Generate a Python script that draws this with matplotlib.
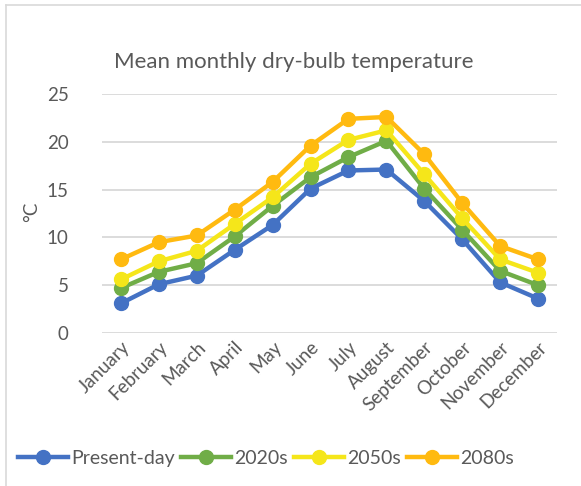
import matplotlib
matplotlib.use("Agg")
import matplotlib.pyplot as plt
from matplotlib.lines import Line2D

months = ["January", "February", "March", "April", "May", "June", "July",
          "August", "September", "October", "November", "December"]
present_day = [3.1, 5.1, 6.0, 8.7, 11.3, 15.1, 17.0, 17.1, 13.8, 9.8, 5.3, 3.6]
s2020 = [4.7, 6.4, 7.3, 10.1, 13.3, 16.3, 18.4, 20.1, 15.1, 10.8, 6.5, 5.0]
s2050 = [5.6, 7.5, 8.6, 11.4, 14.2, 17.7, 20.2, 21.2, 16.6, 12.0, 7.7, 6.3]
s2080 = [7.7, 9.5, 10.2, 12.9, 15.8, 19.6, 22.4, 22.6, 18.7, 13.6, 9.1, 7.7]
series_names = ["Present-day", "2020s", "2050s", "2080s"]
yticks = [0, 5, 10, 15, 20, 25]

colors = ["#4472C4", "#70AD47", "#F5E61A", "#FFBA10"]
series = [present_day, s2020, s2050, s2080]

plt.rcParams['font.family'] = ['Lato', 'DejaVu Sans']
text_color = "#595959"

fig = plt.figure(figsize=(5.81, 4.86), dpi=100)
ax = fig.add_axes([102/581, 1 - 333/486, 455/581, 239/486])

x = list(range(len(months)))
for vals, c, name in zip(series, colors, series_names):
    ax.plot(x, vals, color=c, lw=3.2, marker='o', ms=10, label=name,
            clip_on=False, zorder=3)

ax.set_xlim(-0.5, 11.5)
ax.set_ylim(0, 25)
ax.set_yticks(yticks)
ax.set_yticklabels([str(t) for t in yticks])
ax.yaxis.grid(True, color="#D9D9D9", lw=1.3)
ax.set_axisbelow(True)
for s in ax.spines.values():
    s.set_visible(False)
ax.tick_params(axis='y', length=0, pad=24, labelsize=13.5, labelcolor=text_color)
ax.tick_params(axis='x', length=0, pad=4, labelsize=13.5, labelcolor=text_color)
ax.set_xticks(x)
ax.set_xticklabels(months, rotation=45, ha='right', rotation_mode='anchor')

fig.text(32/581, 1 - 212/486, "°C", rotation=90, ha='center', va='center',
         fontsize=13.5, color=text_color)
fig.text(294/581, 1 - 62/486, "Mean monthly dry-bulb temperature", ha='center',
         va='center', fontsize=16, color=text_color)

handles = [Line2D([0], [0], color=c, lw=3.2, marker='o', ms=10) for c in colors]
leg = fig.legend(handles, series_names, loc='center', bbox_to_anchor=(266/581, 1 - 458/486),
                 ncol=4, frameon=False, fontsize=14, handlelength=2.6,
                 handletextpad=0.15, columnspacing=0.3, borderaxespad=0)
for t in leg.get_texts():
    t.set_color(text_color)

# chart area border (left and top visible)
fig.add_artist(Line2D([6/581, 6/581], [0, 1 - 5/486], color="#D9D9D9", lw=1.2,
                      transform=fig.transFigure))
fig.add_artist(Line2D([6/581, 1], [1 - 5/486, 1 - 5/486], color="#D9D9D9", lw=1.2,
                      transform=fig.transFigure))

fig.savefig("out.png", dpi=100)
